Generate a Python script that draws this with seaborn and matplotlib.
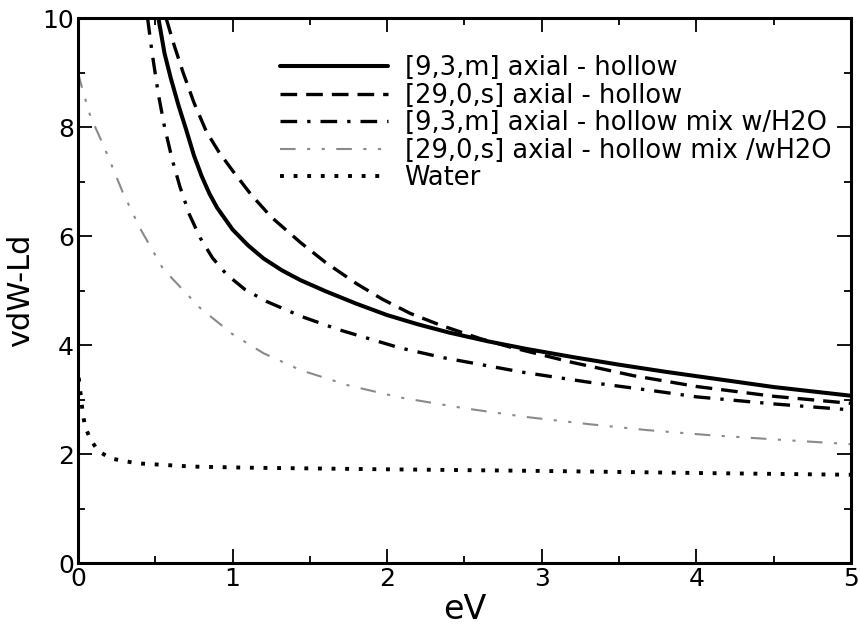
import matplotlib
matplotlib.use("Agg")
import matplotlib.pyplot as plt
from matplotlib.ticker import MultipleLocator
import seaborn as sns

# [9,3,m] axial - hollow
x_93 = [0.52, 0.56, 0.60, 0.65, 0.70, 0.75, 0.80, 0.85, 0.90, 1.0, 1.1, 1.2, 1.32, 1.44, 1.6, 1.8,
        2.0, 2.2, 2.4, 2.65, 2.9, 3.2, 3.5, 3.8, 4.1, 4.5, 5.0]
y_93 = [10.0, 9.35, 8.9, 8.4, 7.95, 7.48, 7.1, 6.78, 6.52, 6.12, 5.83, 5.59, 5.37, 5.19, 4.99, 4.76,
        4.55, 4.38, 4.23, 4.07, 3.93, 3.78, 3.64, 3.51, 3.39, 3.23, 3.07]

# [29,0,s] axial - hollow
x_290 = [0.57, 0.62, 0.68, 0.75, 0.83, 0.91, 1.0, 1.12, 1.25, 1.44, 1.6, 1.8, 1.97, 2.15, 2.34, 2.6,
         2.8, 3.2, 3.59, 4.0, 4.5, 5.0]
y_290 = [10.0, 9.52, 9.0, 8.45, 7.92, 7.55, 7.2, 6.76, 6.35, 5.88, 5.52, 5.13, 4.84, 4.58, 4.37, 4.12,
         3.96, 3.68, 3.44, 3.24, 3.06, 2.93]

# [9,3,m] axial - hollow mix w/H2O
x_93w = [0.45, 0.48, 0.52, 0.56, 0.61, 0.66, 0.72, 0.79, 0.87, 0.96, 1.08, 1.22, 1.45, 1.69, 2.08,
         2.36, 2.88, 3.3, 3.7, 4.0, 4.5, 5.0]
y_93w = [10.0, 9.35, 8.6, 8.0, 7.4, 6.9, 6.4, 5.97, 5.6, 5.3, 5.02, 4.8, 4.52, 4.28, 3.95,
         3.77, 3.5, 3.32, 3.17, 3.05, 2.92, 2.81]

# [29,0,s] axial - hollow mix /wH2O
x_290w = [0.0, 0.03, 0.08, 0.17, 0.29, 0.4, 0.55, 0.79, 1.0, 1.2, 1.44, 1.75, 2.08, 2.5, 2.9, 3.3,
          3.68, 4.07, 4.5, 5.0]
y_290w = [9.0, 8.68, 8.2, 7.63, 6.8, 6.15, 5.4, 4.68, 4.2, 3.85, 3.54, 3.26, 3.04, 2.84, 2.68, 2.55,
          2.44, 2.35, 2.27, 2.18]

# Water
x_water = [0.005, 0.03, 0.045, 0.08, 0.13, 0.21, 0.38, 0.74, 1.09, 2.0, 3.0, 4.07, 5.0]
y_water = [3.4, 2.77, 2.51, 2.27, 2.06, 1.92, 1.83, 1.77, 1.75, 1.72, 1.69, 1.65, 1.62]

labels = ["[9,3,m] axial - hollow",
          "[29,0,s] axial - hollow",
          "[9,3,m] axial - hollow mix w/H2O",
          "[29,0,s] axial - hollow mix /wH2O",
          "Water"]


def main():
    sns.set_style("ticks")
    plt.rcParams["font.family"] = ["DejaVu Sans"]
    plt.rcParams["text.color"] = "black"
    plt.rcParams["axes.labelcolor"] = "black"
    plt.rcParams["xtick.color"] = "black"
    plt.rcParams["ytick.color"] = "black"

    fig, ax = plt.subplots(figsize=(8.6, 6.26), dpi=100)
    fig.subplots_adjust(left=0.0907, right=0.9895, bottom=0.1006, top=0.971)

    sns.lineplot(x=x_93, y=y_93, ax=ax, color="black", lw=2.9, ls="-", label=labels[0])
    sns.lineplot(x=x_290, y=y_290, ax=ax, color="black", lw=2.4, ls=(0, (5, 2.7)), label=labels[1])
    sns.lineplot(x=x_93w, y=y_93w, ax=ax, color="black", lw=2.4, ls=(0, (5, 3, 1, 3)), label=labels[2])
    sns.lineplot(x=x_290w, y=y_290w, ax=ax, color="#8a8a8a", lw=1.5,
                 ls=(0, (7.5, 5.5, 1.5, 5.5, 1.5, 5.5)), label=labels[3])
    sns.lineplot(x=x_water, y=y_water, ax=ax, color="black", lw=2.8, ls=(0, (1, 2.5)), label=labels[4])

    ax.set_xlim(0, 5)
    ax.set_ylim(0, 10)
    ax.xaxis.set_major_locator(MultipleLocator(1))
    ax.xaxis.set_minor_locator(MultipleLocator(0.5))
    ax.yaxis.set_major_locator(MultipleLocator(2))
    ax.yaxis.set_minor_locator(MultipleLocator(1))
    ax.tick_params(which="major", direction="in", top=True, right=True, length=10, width=1.3,
                   labelsize=18, pad=3)
    ax.tick_params(which="minor", direction="in", top=True, right=True, length=5, width=1.3)
    for s in ax.spines.values():
        s.set_linewidth(2.2)
        s.set_color("black")

    ax.set_xlabel("eV", fontsize=24, labelpad=1)
    ax.set_ylabel("vdW-Ld", fontsize=22, labelpad=5)

    ax.legend(loc="upper left", bbox_to_anchor=(0.261, 0.932), frameon=False, fontsize=18.5,
              handlelength=4.2, handletextpad=0.66, labelspacing=0.06, borderpad=0, borderaxespad=0)

    fig.savefig("out.png", dpi=100)


if __name__ == "__main__":
    main()
